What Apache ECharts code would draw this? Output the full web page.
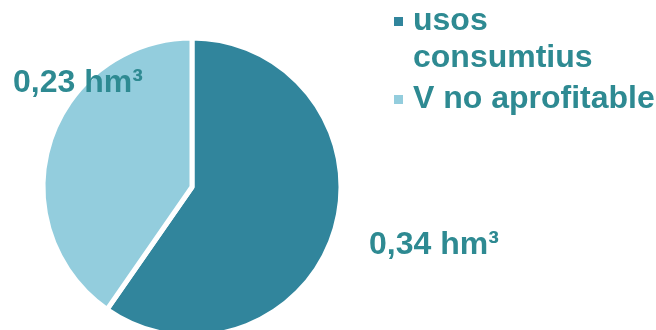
<!DOCTYPE html>
<html>
<head>
<meta charset="utf-8">
<script src="https://cdn.jsdelivr.net/npm/echarts@6/dist/echarts.min.js"></script>
<style>
  html, body { margin: 0; padding: 0; background: #ffffff; }
  #chart { width: 656px; height: 330px; }
</style>
</head>
<body>
<div id="chart"></div>
<script>
// Water volume split, in hm³
const categories = ['usos consumtius', 'V no aprofitable'];
const values = [0.34, 0.23];
const unit = 'hm³';
// Legend text as it wraps on the page
const legendLabels = ['usos\nconsumtius', 'V no aprofitable'];

const sliceColors = ['#31859C', '#93CDDD'];
const textColor = '#2E8A92';
const fontFamily = '"Liberation Sans", Arial, sans-serif';

// Where each value label sits (by slice index)
const labelSpots = [
  { x: 369, y: 245 },
  { x: 13, y: 83 }
];

const chart = echarts.init(document.getElementById('chart'), null, { renderer: 'canvas' });

const lineH = 37;

chart.setOption({
  animation: false,
  backgroundColor: '#ffffff',
  legend: {
    orient: 'vertical',
    left: 392,
    top: -34,
    padding: 0,
    itemWidth: 11,
    itemHeight: 11,
    itemGap: 4,
    icon: 'rect',
    selectedMode: false,
    data: categories,
    // Blank lines in front keep the first text line level with the swatch
    formatter: name => {
      const lbl = legendLabels[categories.indexOf(name)];
      const n = lbl.split('\n').length;
      return '\n'.repeat(n - 1) + lbl;
    },
    textStyle: {
      color: textColor,
      fontFamily,
      fontWeight: 'bold',
      fontSize: 32,
      lineHeight: lineH,
      padding: [0, 0, 0, 4]
    }
  },
  series: [{
    type: 'pie',
    center: [192, 187],
    radius: 149,
    startAngle: 90,
    clockwise: true,
    silent: true,
    itemStyle: { borderColor: '#ffffff', borderWidth: 5 },
    label: {
      show: true,
      position: 'inside',
      color: textColor,
      fontFamily,
      fontWeight: 'bold',
      fontSize: 32,
      formatter: p => p.value.toFixed(2).replace('.', ',') + ' ' + unit
    },
    labelLine: { show: false },
    labelLayout: p => ({
      x: labelSpots[p.dataIndex].x,
      y: labelSpots[p.dataIndex].y,
      align: 'left',
      verticalAlign: 'middle'
    }),
    data: categories.map((name, i) => ({
      name,
      value: values[i],
      itemStyle: { color: sliceColors[i] }
    }))
  }]
});
</script>
</body>
</html>
